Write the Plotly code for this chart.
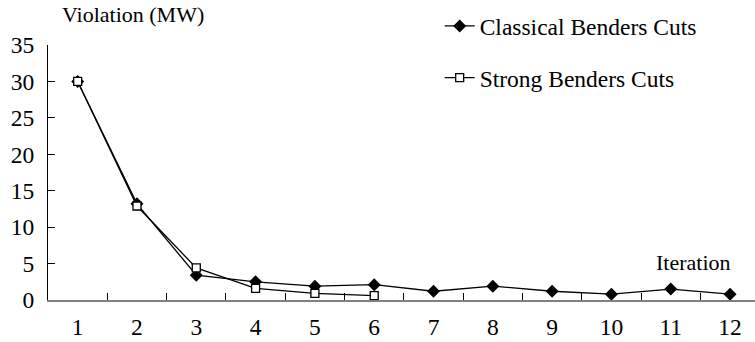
import plotly.graph_objects as go

iterations = [str(i) for i in range(1, 13)]
classical = [30.0, 13.2, 3.4, 2.5, 1.9, 2.1, 1.2, 1.9, 1.2, 0.8, 1.5, 0.8]
strong_iter = [str(i) for i in range(1, 7)]
strong = [30.0, 12.9, 4.4, 1.6, 0.9, 0.6]
y_ticks = [0, 5, 10, 15, 20, 25, 30, 35]

FONT = "Liberation Serif"
FS = 22
FT = 23.5

fig = go.Figure()
fig.add_trace(go.Scatter(
    x=iterations, y=classical, mode="lines+markers",
    name="Classical Benders Cuts", legendgroup="a",
    line=dict(color="black", width=1.3),
    marker=dict(symbol="diamond", size=10, color="black"),
    cliponaxis=False,
))
fig.add_trace(go.Scatter(
    x=strong_iter, y=strong, mode="lines+markers",
    name="Strong Benders Cuts", legendgroup="b",
    line=dict(color="black", width=1.3),
    marker=dict(symbol="square", size=8, color="white",
                line=dict(color="black", width=1.3)),
    cliponaxis=False,
))

fig.update_layout(
    width=755, height=342,
    margin=dict(l=48, r=0, t=44.5, b=41.5),
    paper_bgcolor="white", plot_bgcolor="white",
    font=dict(family=FONT, size=FS, color="black"),
    showlegend=True,
    legend=dict(x=0.554, y=1.16, xanchor="left", yanchor="top",
                bgcolor="rgba(0,0,0,0)", tracegroupgap=18,
                font=dict(family=FONT, size=FT)),
    xaxis=dict(type="category", categoryorder="array", categoryarray=iterations,
               range=[-0.5, 11.42], tickson="boundaries", ticks="inside",
               ticklen=7, tickcolor="black", tickwidth=1,
               showline=True, linecolor="#808080", linewidth=1.5,
               showgrid=False, zeroline=False, ticklabelstandoff=5,
               tickfont=dict(family=FONT, size=FT)),
    yaxis=dict(range=[0, 35], tickvals=y_ticks, ticks="inside", ticklen=7,
               tickcolor="black", tickwidth=1,
               showline=True, linecolor="black", linewidth=1,
               showgrid=False, zeroline=False, ticklabelstandoff=8,
               tickfont=dict(family=FONT, size=FT)),
    annotations=[
        dict(text="Violation (MW)", xref="paper", yref="paper",
             x=(60 - 48) / 707, y=1.0, xanchor="left", yanchor="bottom",
             yshift=16, showarrow=False,
             font=dict(family=FONT, size=FS)),
        dict(text="Iteration", xref="paper", yref="y",
             x=(733 - 48) / 707, y=5.1, xanchor="right", yanchor="middle",
             showarrow=False, font=dict(family=FONT, size=FS)),
    ],
)

fig.write_html("out.html")
